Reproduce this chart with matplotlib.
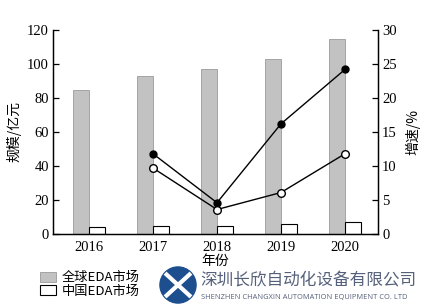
import numpy as np
import matplotlib.pyplot as plt
from matplotlib.patches import Circle, Rectangle

# ─── Data ─────────────────────────────────────────────────────────────────────

YEARS = ['2016', '2017', '2018', '2019', '2020']
global_size = [85, 93, 97, 103, 114.5]      # 亿元
china_size = [4.0, 4.6, 5.0, 6.0, 7.2]      # 亿元
global_growth = [None, 11.8, 4.6, 16.2, 24.2]   # %
china_growth = [None, 9.7, 3.6, 6.1, 11.8]      # %

CJK = ['Noto Sans CJK SC', 'DejaVu Sans']
SERIF = ['Liberation Serif', 'DejaVu Serif']

# ─── Figure ───────────────────────────────────────────────────────────────────

fig = plt.figure(figsize=(4.3, 3.07), dpi=100)
ax = fig.add_axes([53 / 430, 1 - 234 / 307, (378 - 53) / 430, (234 - 30) / 307])
ax2 = ax.twinx()

x = np.arange(len(YEARS))
w = 0.25
ax.bar(x - w / 2, global_size, w, color='#c2c2c2', edgecolor='#9a9a9a', linewidth=0.6, zorder=2)
ax.bar(x + w / 2, china_size, w, color='white', edgecolor='black', linewidth=0.8, zorder=2)

xs = x[1:]
ax2.plot(xs, global_growth[1:], color='black', lw=1, marker='o', ms=5,
         mfc='black', mec='black', zorder=3)
ax2.plot(xs, china_growth[1:], color='black', lw=1, marker='o', ms=5.5,
         mfc='white', mec='black', mew=1, zorder=3)

ax.set_xlim(-0.5625, 4.516)
ax.set_ylim(0, 120)
ax2.set_ylim(0, 30)
ax.set_yticks(range(0, 121, 20))
ax2.set_yticks(range(0, 31, 5))
ax.set_xticks(x)
ax.set_xticklabels(YEARS)

for a in (ax, ax2):
    a.spines['top'].set_visible(False)
    for s in a.spines.values():
        s.set_linewidth(0.9)
    a.tick_params(direction='in', length=4, width=0.9, labelsize=10.5, pad=3)
    for lab in a.get_yticklabels() + a.get_xticklabels():
        lab.set_family(SERIF)
ax.tick_params(axis='x', length=0, pad=5)

ax.set_ylabel('规模/亿元', family=CJK, fontsize=10, labelpad=4)
ax2.set_ylabel('增速/%', family=CJK, fontsize=10, labelpad=6)
ax.set_xlabel('年份', family=CJK, fontsize=10, labelpad=0)

# ─── Legend ───────────────────────────────────────────────────────────────────

fig.patches.append(Rectangle((40 / 430, 1 - 282 / 307), 16 / 430, 10 / 307,
                             transform=fig.transFigure, facecolor='#c2c2c2',
                             edgecolor='#9a9a9a', lw=0.6))
fig.patches.append(Rectangle((40 / 430, 1 - 295 / 307), 16 / 430, 10 / 307,
                             transform=fig.transFigure, facecolor='white',
                             edgecolor='black', lw=0.8))
fig.text(62 / 430, 1 - 277 / 307, '全球EDA市场', family=CJK, fontsize=9.5, va='center')
fig.text(62 / 430, 1 - 291 / 307, '中国EDA市场', family=CJK, fontsize=9.5, va='center')

# ─── Watermark ────────────────────────────────────────────────────────────────

logo = fig.add_axes([158 / 430, 3 / 307, 40 / 430, 38 / 307])
logo.set_xlim(-1, 1)
logo.set_ylim(-1, 1)
logo.set_aspect('equal')
logo.axis('off')
logo.add_patch(Circle((0, 0), 0.95, color='#1d4f8f'))
logo.plot([-0.6, 0.6], [0.55, -0.55], color='white', lw=3)
logo.plot([-0.6, 0.6], [-0.55, 0.55], color='white', lw=3)

fig.text(200 / 430, 1 - 281 / 307, '深圳长欣自动化设备有限公司', family=CJK,
         fontsize=12, color='#55607a', va='center')
fig.text(201 / 430, 1 - 297 / 307, 'SHENZHEN CHANGXIN AUTOMATION EQUIPMENT CO. LTD',
         family=['Open Sans', 'DejaVu Sans'], fontsize=5.4, color='#55607a', va='center')

fig.savefig('out.png', dpi=100)
